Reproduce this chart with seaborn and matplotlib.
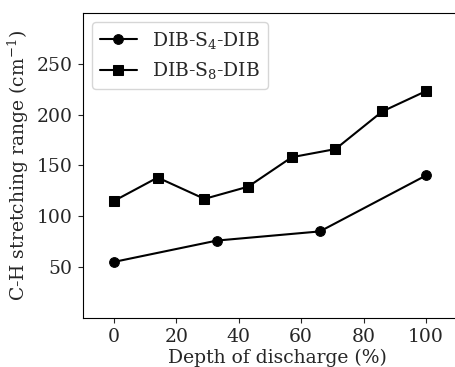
import matplotlib
matplotlib.use("Agg")
import matplotlib.pyplot as plt
import seaborn as sns
import pandas as pd

s4_x = [0, 33, 66, 100]
s4_y = [55, 76, 85, 140]
s8_x = [0, 14, 29, 43, 57, 71, 86, 100]
s8_y = [115, 138, 117, 129, 158, 166, 203, 223]
labels = ["DIB-S$_4$-DIB", "DIB-S$_8$-DIB"]

sns.set_style("ticks")
plt.rcParams['font.family'] = ['DejaVu Serif']
plt.rcParams['mathtext.fontset'] = 'dejavuserif'
fs = 13.5
plt.rcParams['font.size'] = fs

df = pd.concat([
    pd.DataFrame({"x": s4_x, "y": s4_y, "series": labels[0]}),
    pd.DataFrame({"x": s8_x, "y": s8_y, "series": labels[1]}),
])

fig = plt.figure(figsize=(4.55, 3.67), dpi=100)
ax = fig.add_axes([0.182, 0.134, 0.857, 0.831])
sns.lineplot(data=df, x="x", y="y", hue="series", style="series",
             markers=["o", "s"], dashes=False, palette=["black", "black"],
             markersize=7, linewidth=1.5, markeredgecolor="black", ax=ax)
ax.set_xlim(-10, 115)
ax.set_ylim(0, 300)
ax.set_xticks([0, 20, 40, 60, 80, 100])
ax.set_yticks([50, 100, 150, 200, 250])
ax.tick_params(labelsize=fs, direction="out", length=3.5, pad=4)
ax.set_xlabel("Depth of discharge (%)", fontsize=fs, labelpad=1.5)
ax.set_ylabel("C-H stretching range (cm$^{-1}$)", fontsize=fs, labelpad=4)
for s in ax.spines.values():
    s.set_color("black")
    s.set_linewidth(0.8)
ax.spines["right"].set_visible(False)
leg = ax.legend(title=None, loc="upper left", fontsize=fs)
fig.savefig("out.png", dpi=100)
